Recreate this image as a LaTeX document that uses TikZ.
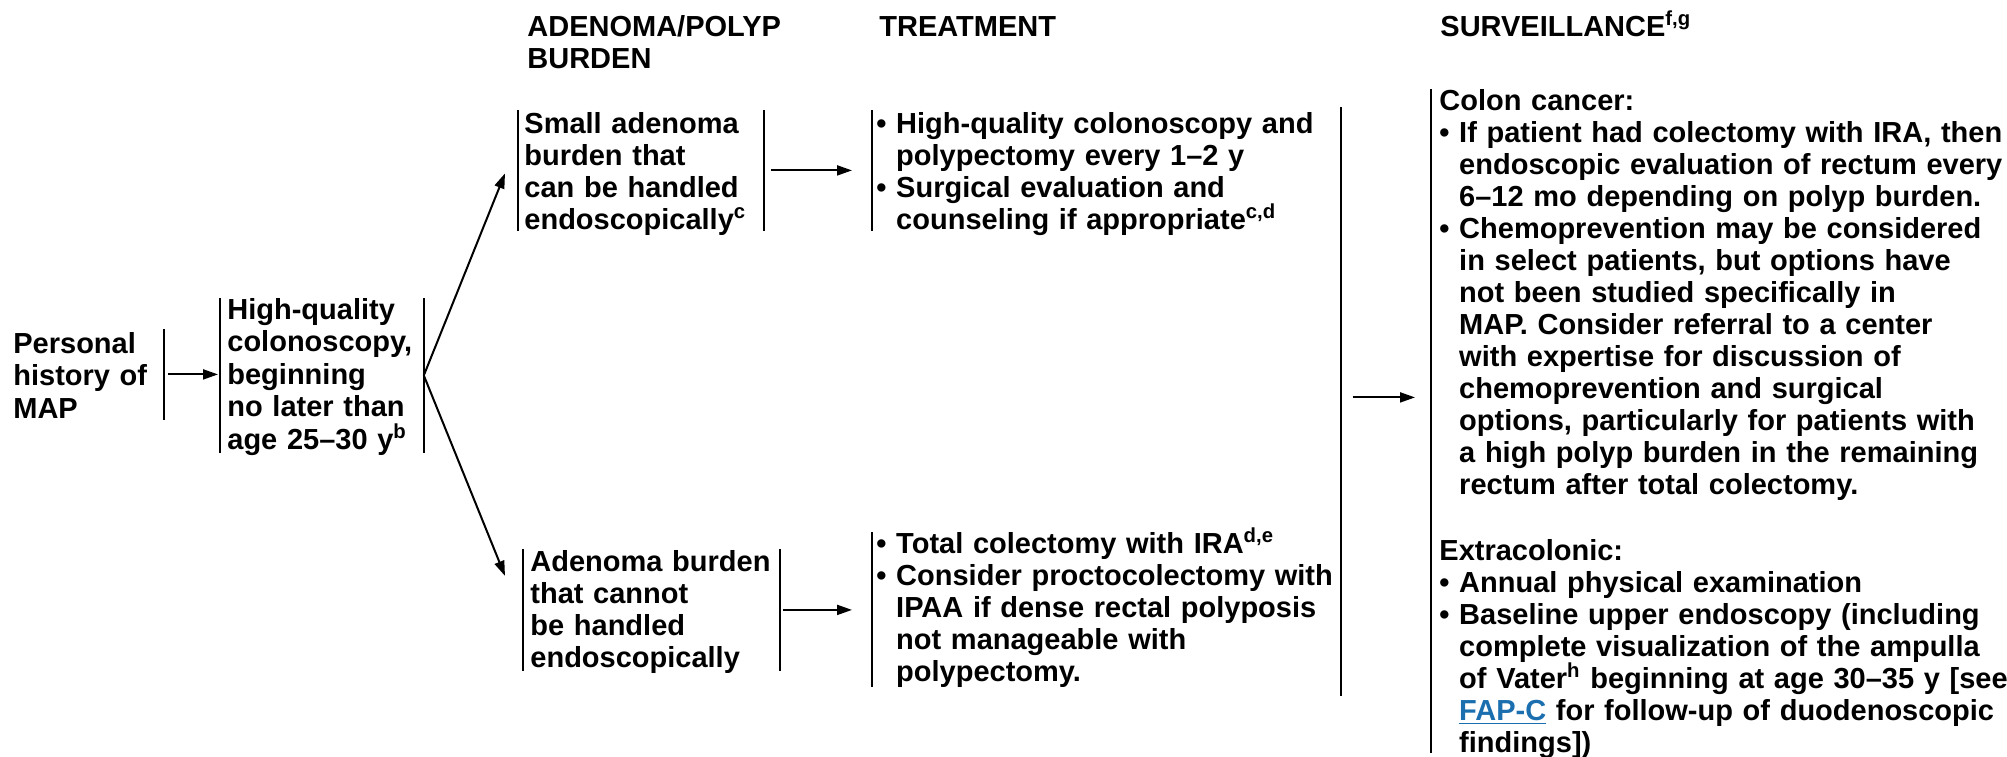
\documentclass[tikz,border=0pt]{standalone}
\usepackage{fontspec}
\setmainfont{Liberation Sans}
\usetikzlibrary{calc,positioning,arrows.meta}
\definecolor{linkblue}{HTML}{1B6FAF}

\newcommand{\bl}{\textbullet\ }
\newcommand{\hg}{\hphantom{\textbullet\ }}

\tikzset{
	every node/.style={font=\bfseries\fontsize{14.5}{16}\selectfont},
	wide/.style={font=\bfseries\fontsize{14.5}{16.2}\selectfont},
	box/.style={inner ysep=0pt, align=left, anchor=north west},
	barline/.style={line width=1.3pt, -},
	lbar/.style={append after command={(\tikzlastnode.north west) edge[barline] (\tikzlastnode.south west)}},
	rbar/.style={append after command={(\tikzlastnode.north east) edge[barline] (\tikzlastnode.south east)}},
	arr/.style={line width=1pt, -{Triangle[length=7.5pt,width=5pt]}},
	hdr/.style={anchor=base west, inner sep=0pt, align=left}
}

\begin{document}
\begin{tikzpicture}[x=0.5pt,y=-0.5pt]
	\useasboundingbox (0,0) rectangle (2007,756);

	\node[hdr] (hburden) at (527,68) {ADENOMA/POLYP\\BURDEN};
	\node[hdr] (htreat) at (879,36) {TREATMENT};
	\node[hdr] (hsurv) at (1440,36) {SURVEILLANCE\textsuperscript{f,g}};

	\node[box, wide, rbar, inner xsep=0pt, text width=75pt, text height=12pt, text depth=33pt] (map) at (13,329)
		{Personal\\history of\\MAP};
	\node[box, wide, lbar, rbar, inner xsep=3.5pt, text width=94.5pt, text height=10.5pt, text depth=66.5pt] (hq) at (220,298)
		{High-quality\\colonoscopy,\\beginning\\no later than\\age 25–30 y\textsuperscript{b}};

	\node[box, lbar, rbar, inner xsep=3pt, text width=116.5pt, text height=11.5pt, text depth=48.5pt] (sm) at (518,110)
		{Small adenoma\\burden that\\can be handled\\endoscopically\textsuperscript{c}};
	\node[box, lbar, rbar, inner xsep=3.5pt, text width=121pt, text height=11pt, text depth=49.5pt] (lg) at (523,549)
		{Adenoma burden\\that cannot\\be handled\\endoscopically};

	\node[box, lbar, inner xsep=2pt, text width=230pt, text height=11.5pt, text depth=48.5pt] (tx1) at (872,110)
		{\bl High-quality colonoscopy and\\\hg polypectomy every 1–2 y\\\bl Surgical evaluation and\\\hg counseling if appropriate\textsuperscript{c,d}};
	\node[box, lbar, inner xsep=2pt, text width=230pt, text height=10.5pt, text depth=66.5pt] (tx2) at (872,532)
		{\bl Total colectomy with IRA\textsuperscript{d,e}\\\bl Consider proctocolectomy with\\\hg IPAA if dense rectal polyposis\\\hg not manageable with\\\hg polypectomy.};

	\node[lbar, anchor=north west, inner sep=0pt, minimum height=294pt] (tcol) at (1341,107) {};

	\node[box, lbar, inner xsep=4pt, text width=285pt, text height=10.5pt, text depth=321pt] (sv) at (1431,89)
		{Colon cancer:\\
		\bl If patient had colectomy with IRA, then\\
		\hg endoscopic evaluation of rectum every\\
		\hg 6–12 mo depending on polyp burden.\\
		\bl Chemoprevention may be considered\\
		\hg in select patients, but options have\\
		\hg not been studied specifically in\\
		\hg MAP. Consider referral to a center\\
		\hg with expertise for discussion of\\
		\hg chemoprevention and surgical\\
		\hg options, particularly for patients with\\
		\hg a high polyp burden in the remaining\\
		\hg rectum after total colectomy.\\[17pt]
		Extracolonic:\\
		\bl Annual physical examination\\
		\bl Baseline upper endoscopy (including\\
		\hg complete visualization of the ampulla\\
		\hg of Vater\textsuperscript{h} beginning at age 30–35 y [see\\
		\hg {\color{linkblue}\underline{FAP-C}} for follow-up of duodenoscopic\\
		\hg findings])};

	\draw[arr] ([xshift=2pt]map.east) -- ($(map.east -| hq.west)+(-2,0)$);
	\draw[arr] (hq.east) -- ([shift={(-13,3)}]sm.west);
	\draw[arr] (hq.east) -- ([shift={(-18,-34)}]lg.west);
	\draw[arr] ([xshift=3.5pt]sm.east) -- ($(sm.east -| tx1.west)+(-20,0)$);
	\draw[arr] ([xshift=1.5pt]lg.east) -- ($(lg.east -| tx2.west)+(-20,0)$);
	\draw[arr] ([shift={(9,-4)}]tcol.east) -- ($(tcol.east -| sv.west)+(-16,-4)$);
\end{tikzpicture}
\end{document}
